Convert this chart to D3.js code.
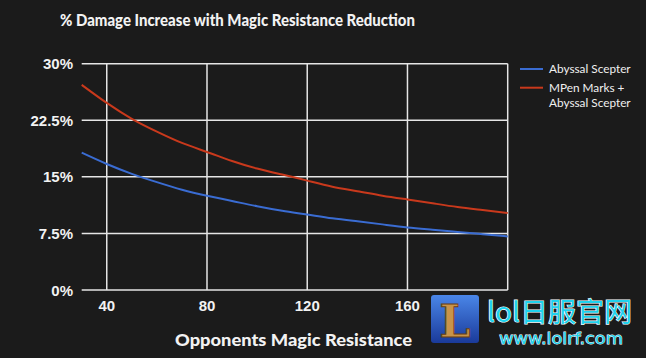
<!DOCTYPE html>
<html><head><meta charset="utf-8">
<script src="https://cdn.jsdelivr.net/npm/d3@7"></script>
<style>html,body{margin:0;padding:0;background:#1b1b1b;}svg{display:block;}</style>
</head><body>
<svg id="c" width="646" height="358"></svg>
<script>
const mr = [30,40,50,60,70,80,90,100,110,120,130,140,150,160,170,180,190,200];
const abyssal = [18.2,16.7,15.4,14.3,13.3,12.5,11.8,11.1,10.5,10.0,9.5,9.1,8.7,8.3,8.0,7.7,7.4,7.1];
const mpenAbyssal = [27.2,24.8,22.7,21.0,19.5,18.3,17.1,16.1,15.3,14.5,13.7,13.1,12.5,12.0,11.5,11.0,10.6,10.2];
const xTicks = [40,80,120,160,200];
const xTickLabels = ["40","80","120","160",""];
const yTicks = [0,7.5,15,22.5,30];
const yTickLabels = ["0%","7.5%","15%","22.5%","30%"];
const seriesNames = ["Abyssal Scepter", ["MPen Marks +","Abyssal Scepter"]];
const colors = ["#3a6cd2","#c9391c"];

const svg = d3.select("#c");
svg.append("rect").attr("width",646).attr("height",358).attr("fill","#1b1b1b");
const L=81.7,R=507.7,T=63.7,B=290;
const x = d3.scaleLinear().domain([30,200]).range([L,R]);
const y = d3.scaleLinear().domain([0,30]).range([B,T]);
const grid="#e6e6e6";
const g = svg.append("g");
g.selectAll("line.h").data(yTicks).join("line")
 .attr("x1",L).attr("x2",R).attr("y1",d=>y(d)).attr("y2",d=>y(d))
 .attr("stroke",grid).attr("stroke-width",1.5);
g.selectAll("line.v").data(xTicks).join("line")
 .attr("x1",d=>x(d)).attr("x2",d=>x(d)).attr("y1",T).attr("y2",B)
 .attr("stroke",grid).attr("stroke-width",1.5);
g.selectAll("text.y").data(yTicks).join("text")
 .attr("x",73).attr("y",d=>y(d)+5.5).attr("text-anchor","end")
 .attr("font-family","Liberation Sans, Arial, sans-serif").attr("font-weight","bold")
 .attr("font-size",15).attr("fill","#f2f2f2").text((d,i)=>yTickLabels[i]);
g.selectAll("text.x").data(xTicks).join("text")
 .attr("x",d=>x(d)).attr("y",311).attr("text-anchor","middle")
 .attr("font-family","Liberation Sans, Arial, sans-serif").attr("font-weight","bold")
 .attr("font-size",15).attr("fill","#f2f2f2").text((d,i)=>xTickLabels[i]);
const line = d3.line().x((d,i)=>x(mr[i])).y(d=>y(d)).curve(d3.curveNatural);
[abyssal,mpenAbyssal].forEach((s,k)=>{
  svg.append("path").attr("d",line(s)).attr("fill","none")
    .attr("stroke",colors[k]).attr("stroke-width",2);
});
svg.append("text").attr("x",237.5).attr("y",26).attr("text-anchor","middle")
 .attr("font-family","Lato, sans-serif").attr("font-weight","900").attr("font-size",17)
 .attr("fill","#f2f2f2").attr("textLength",355).attr("lengthAdjust","spacingAndGlyphs")
 .text("% Damage Increase with Magic Resistance Reduction");
svg.append("text").attr("x",293.5).attr("y",346).attr("text-anchor","middle")
 .attr("font-family","Lato, sans-serif").attr("font-weight","900").attr("font-size",17)
 .attr("fill","#f2f2f2").attr("textLength",237).attr("lengthAdjust","spacingAndGlyphs")
 .text("Opponents Magic Resistance");
const lg = svg.append("g");
[69,87.7].forEach((yy,k)=>{
  lg.append("line").attr("x1",520).attr("x2",543).attr("y1",yy).attr("y2",yy)
    .attr("stroke",colors[k]).attr("stroke-width",2);
});
const lf = {"font-family":"Lato, sans-serif","font-size":11.8,"fill":"#f0f0f0"};
function ltext(t,xx,yy){const e=lg.append("text").attr("x",xx).attr("y",yy).text(t);Object.entries(lf).forEach(([k,v])=>e.attr(k,v));}
ltext(seriesNames[0],549,73);
ltext(seriesNames[1][0],549,91.5);
ltext(seriesNames[1][1],549,106.5);
const wm = svg.append("g");
const grad = svg.append("defs").append("linearGradient").attr("id","lg1").attr("x1",0).attr("y1",0).attr("x2",0).attr("y2",1);
grad.append("stop").attr("offset","0%").attr("stop-color","#4a86e8");
grad.append("stop").attr("offset","100%").attr("stop-color","#1a3a9a");
wm.append("rect").attr("x",431).attr("y",295).attr("width",48).attr("height",48).attr("rx",3).attr("fill","url(#lg1)");
wm.append("text").attr("x",455).attr("y",337).attr("text-anchor","middle")
 .attr("font-family","DejaVu Serif, serif").attr("font-weight","bold").attr("font-size",44)
 .attr("fill","#c8944a").attr("stroke","#6a4010").attr("stroke-width",1).text("L");
wm.append("text").attr("x",487).attr("y",322)
 .attr("font-family","Noto Sans CJK SC, sans-serif").attr("font-size",27)
 .attr("fill","#1ed2ee").attr("stroke","#ffffff").attr("stroke-width",1.2).attr("paint-order","stroke")
 .attr("textLength",145).attr("lengthAdjust","spacingAndGlyphs").text("lol日服官网");
wm.append("text").attr("x",499).attr("y",344)
 .attr("font-family","DejaVu Sans, sans-serif").attr("font-size",15)
 .attr("fill","#1ed2ee").attr("stroke","#ffffff").attr("stroke-width",0.8).attr("paint-order","stroke")
 .attr("textLength",124).attr("lengthAdjust","spacingAndGlyphs").text("www.lolrf.com");
</script>
</body></html>
